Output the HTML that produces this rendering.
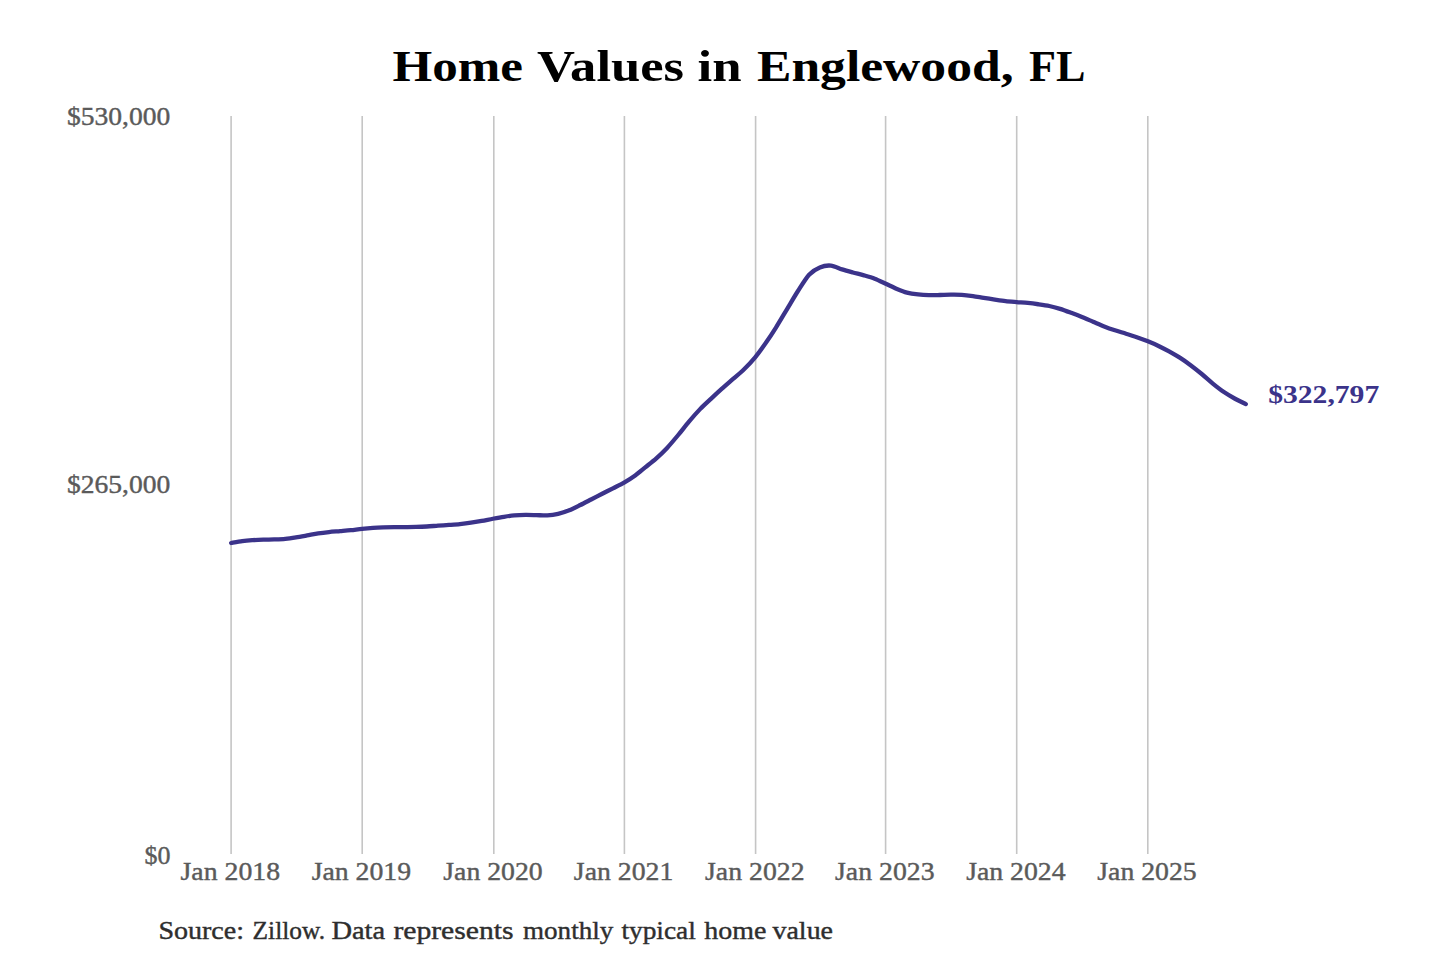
<!DOCTYPE html>
<html><head><meta charset="utf-8"><style>
html,body{margin:0;padding:0;background:#fff;width:1440px;height:960px;overflow:hidden}
svg{display:block}
text{font-family:"Liberation Serif", serif}
</style></head><body>
<svg width="1440" height="960" viewBox="0 0 1440 960">
<rect width="1440" height="960" fill="#fff"/>
<g font-size="44" font-weight="bold" fill="#000"><text x="392.50" y="81.3" textLength="130.55" lengthAdjust="spacingAndGlyphs">Home</text><text x="537.00" y="81.3" textLength="147.00" lengthAdjust="spacingAndGlyphs">Values</text><text x="697.50" y="81.3" textLength="44.00" lengthAdjust="spacingAndGlyphs">in</text><text x="757.00" y="81.3" textLength="256.55" lengthAdjust="spacingAndGlyphs">Englewood,</text><text x="1029.00" y="81.3" textLength="56.45" lengthAdjust="spacingAndGlyphs">FL</text></g>
<g stroke="#c5c5c5" stroke-width="1.6">
<line x1="231.1" y1="116" x2="231.1" y2="854"/>
<line x1="362.2" y1="116" x2="362.2" y2="854"/>
<line x1="493.8" y1="116" x2="493.8" y2="854"/>
<line x1="624.4" y1="116" x2="624.4" y2="854"/>
<line x1="755.6" y1="116" x2="755.6" y2="854"/>
<line x1="885.6" y1="116" x2="885.6" y2="854"/>
<line x1="1016.7" y1="116" x2="1016.7" y2="854"/>
<line x1="1147.8" y1="116" x2="1147.8" y2="854"/>
</g>
<g font-size="25.5" fill="#5a5a5a" stroke="#5a5a5a" stroke-width="0.4">
<text x="66.9" y="124.6" textLength="103.4" lengthAdjust="spacingAndGlyphs">$530,000</text>
<text x="66.9" y="492.5" textLength="103.4" lengthAdjust="spacingAndGlyphs">$265,000</text>
<text x="144.6" y="863.9" textLength="26" lengthAdjust="spacingAndGlyphs">$0</text>
<text x="230.3" y="879.8" font-size="25.5" text-anchor="middle" textLength="99.5" lengthAdjust="spacingAndGlyphs">Jan 2018</text>
<text x="361.4" y="879.8" font-size="25.5" text-anchor="middle" textLength="99.5" lengthAdjust="spacingAndGlyphs">Jan 2019</text>
<text x="493.0" y="879.8" font-size="25.5" text-anchor="middle" textLength="99.5" lengthAdjust="spacingAndGlyphs">Jan 2020</text>
<text x="623.6" y="879.8" font-size="25.5" text-anchor="middle" textLength="99.5" lengthAdjust="spacingAndGlyphs">Jan 2021</text>
<text x="754.8" y="879.8" font-size="25.5" text-anchor="middle" textLength="99.5" lengthAdjust="spacingAndGlyphs">Jan 2022</text>
<text x="884.8" y="879.8" font-size="25.5" text-anchor="middle" textLength="99.5" lengthAdjust="spacingAndGlyphs">Jan 2023</text>
<text x="1015.9" y="879.8" font-size="25.5" text-anchor="middle" textLength="99.5" lengthAdjust="spacingAndGlyphs">Jan 2024</text>
<text x="1147.0" y="879.8" font-size="25.5" text-anchor="middle" textLength="99.5" lengthAdjust="spacingAndGlyphs">Jan 2025</text>
</g>
<path d="M231.10,543.00 C232.69,542.74 239.19,541.60 242.22,541.20 C245.24,540.80 249.23,540.45 252.25,540.23 C255.28,540.02 260.24,539.80 263.37,539.68 C266.49,539.57 271.00,539.56 274.13,539.45 C277.25,539.34 282.12,539.19 285.24,538.90 C288.37,538.61 292.87,537.93 296.00,537.43 C299.12,536.94 303.94,536.03 307.11,535.45 C310.29,534.87 315.10,533.87 318.23,533.38 C321.35,532.90 325.86,532.37 328.98,532.05 C332.11,531.73 336.97,531.39 340.10,531.12 C343.22,530.85 347.73,530.50 350.86,530.17 C353.98,529.84 358.80,529.14 361.97,528.82 C365.15,528.49 370.06,528.08 373.09,527.88 C376.11,527.68 380.10,527.52 383.13,527.42 C386.15,527.31 391.12,527.20 394.24,527.15 C397.36,527.10 401.87,527.11 405.00,527.08 C408.12,527.05 412.99,527.03 416.11,526.95 C419.24,526.87 423.74,526.69 426.87,526.50 C429.99,526.31 434.81,525.88 437.98,525.65 C441.16,525.42 445.97,525.12 449.10,524.90 C452.22,524.68 456.73,524.39 459.85,524.08 C462.98,523.77 467.85,523.19 470.97,522.73 C474.09,522.28 478.60,521.49 481.73,520.92 C484.85,520.35 489.67,519.34 492.84,518.75 C496.02,518.16 500.88,517.27 503.96,516.80 C507.03,516.33 511.28,515.72 514.35,515.45 C517.43,515.18 522.35,514.97 525.47,514.92 C528.59,514.87 533.10,515.03 536.23,515.10 C539.35,515.17 544.22,515.57 547.34,515.40 C550.47,515.23 554.97,514.61 558.10,513.88 C561.22,513.16 566.04,511.60 569.21,510.33 C572.39,509.07 577.20,506.60 580.33,505.05 C583.45,503.50 587.96,501.13 591.08,499.52 C594.21,497.91 599.07,495.39 602.20,493.78 C605.32,492.18 609.83,489.90 612.96,488.30 C616.08,486.70 620.90,484.41 624.07,482.57 C627.25,480.72 632.16,477.58 635.19,475.40 C638.21,473.22 642.20,469.77 645.23,467.33 C648.25,464.90 653.22,461.11 656.34,458.33 C659.46,455.56 663.97,451.25 667.10,447.92 C670.22,444.58 675.09,438.76 678.21,435.00 C681.34,431.24 685.84,425.31 688.97,421.62 C692.09,417.92 696.91,412.43 700.08,409.13 C703.26,405.84 708.07,401.49 711.20,398.57 C714.32,395.64 718.83,391.47 721.95,388.67 C725.08,385.86 729.95,381.66 733.07,378.92 C736.19,376.18 740.70,372.54 743.83,369.48 C746.95,366.43 751.77,361.39 754.94,357.55 C758.12,353.71 763.03,346.90 766.06,342.58 C769.08,338.26 773.07,332.13 776.10,327.30 C779.12,322.47 784.09,313.99 787.21,308.80 C790.34,303.61 794.84,295.87 797.97,291.00 C801.09,286.13 805.96,278.07 809.08,274.70 C812.21,271.33 816.71,268.70 819.84,267.40 C822.96,266.10 827.78,265.31 830.95,265.60 C834.13,265.89 838.94,268.42 842.07,269.40 C845.19,270.38 849.70,271.60 852.83,272.45 C855.95,273.30 860.82,274.44 863.94,275.33 C867.07,276.23 871.57,277.50 874.70,278.70 C877.82,279.90 882.64,282.26 885.81,283.72 C888.99,285.17 893.91,287.64 896.93,288.90 C899.95,290.16 903.94,291.77 906.97,292.57 C909.99,293.36 914.96,294.07 918.08,294.45 C921.21,294.83 925.71,295.12 928.84,295.20 C931.96,295.28 936.83,295.08 939.95,295.00 C943.08,294.92 947.59,294.69 950.71,294.67 C953.83,294.64 958.65,294.63 961.82,294.83 C965.00,295.04 969.82,295.65 972.94,296.08 C976.06,296.52 980.57,297.37 983.70,297.87 C986.82,298.37 991.69,299.12 994.81,299.58 C997.94,300.04 1002.44,300.73 1005.57,301.08 C1008.69,301.44 1013.51,301.81 1016.68,302.08 C1019.86,302.35 1024.72,302.67 1027.80,302.98 C1030.87,303.29 1035.12,303.82 1038.20,304.25 C1041.27,304.68 1046.19,305.35 1049.31,306.02 C1052.44,306.68 1056.94,307.94 1060.07,308.92 C1063.19,309.89 1068.06,311.70 1071.18,312.85 C1074.31,314.00 1078.81,315.70 1081.94,316.97 C1085.06,318.23 1089.88,320.36 1093.05,321.72 C1096.23,323.08 1101.04,325.25 1104.17,326.48 C1107.29,327.71 1111.80,329.30 1114.93,330.33 C1118.05,331.37 1122.92,332.73 1126.04,333.72 C1129.17,334.70 1133.67,336.13 1136.80,337.22 C1139.92,338.31 1144.74,340.07 1147.91,341.35 C1151.09,342.63 1156.01,344.75 1159.03,346.20 C1162.05,347.65 1166.04,349.79 1169.07,351.47 C1172.09,353.14 1177.06,355.93 1180.18,357.93 C1183.31,359.93 1187.81,363.13 1190.94,365.47 C1194.06,367.80 1198.93,371.70 1202.05,374.28 C1205.18,376.87 1209.69,381.03 1212.81,383.57 C1215.93,386.10 1220.75,389.88 1223.92,392.05 C1227.10,394.22 1231.92,397.03 1235.04,398.75 C1238.16,400.47 1244.26,403.34 1245.80,404.10" fill="none" stroke="#3b338a" stroke-width="4.3" stroke-linecap="round" stroke-linejoin="round"/>
<text x="1268.2" y="402.5" font-size="25.5" font-weight="bold" fill="#3b338a" textLength="111" lengthAdjust="spacingAndGlyphs">$322,797</text>
<g font-size="25" fill="#2e2e2e" stroke="#2e2e2e" stroke-width="0.4"><text x="158.40" y="938.6" textLength="85.60" lengthAdjust="spacingAndGlyphs">Source:</text><text x="252.60" y="938.6" textLength="72.40" lengthAdjust="spacingAndGlyphs">Zillow.</text><text x="331.40" y="938.6" textLength="53.80" lengthAdjust="spacingAndGlyphs">Data</text><text x="393.40" y="938.6" textLength="120.10" lengthAdjust="spacingAndGlyphs">represents</text><text x="523.00" y="938.6" textLength="90.30" lengthAdjust="spacingAndGlyphs">monthly</text><text x="621.40" y="938.6" textLength="74.40" lengthAdjust="spacingAndGlyphs">typical</text><text x="704.20" y="938.6" textLength="62.10" lengthAdjust="spacingAndGlyphs">home</text><text x="772.50" y="938.6" textLength="60.50" lengthAdjust="spacingAndGlyphs">value</text></g>
</svg>
</body></html>
